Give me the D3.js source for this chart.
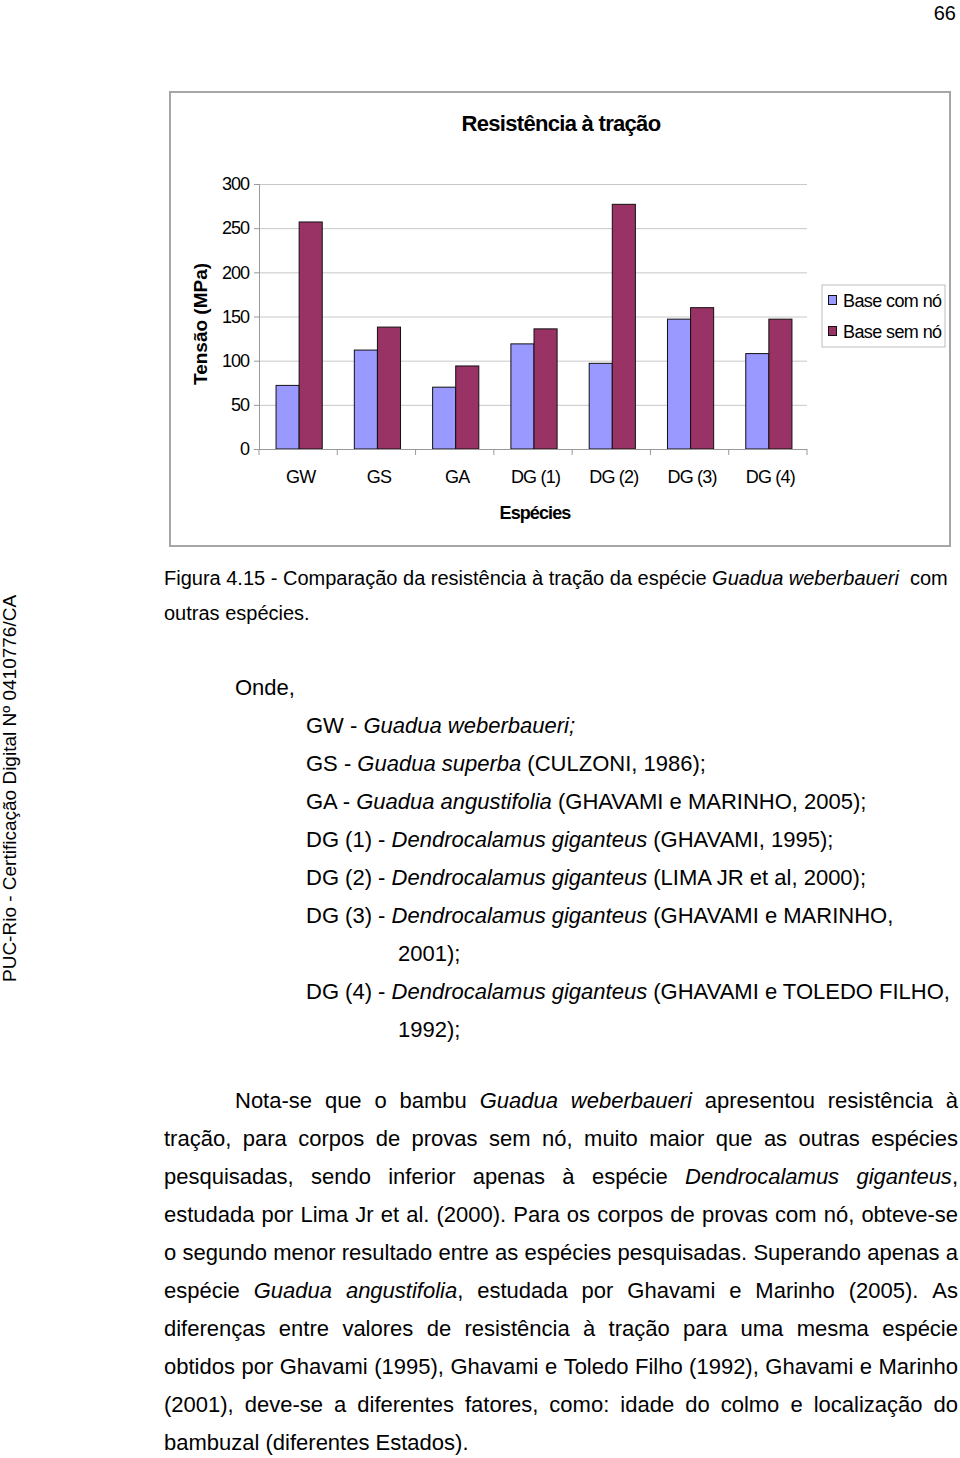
<!DOCTYPE html>
<html><head><meta charset="utf-8">
<script src="https://cdn.jsdelivr.net/npm/d3@7"></script>
<style>
html,body{margin:0;padding:0;background:#fff;}
svg{display:block;font-family:"Liberation Sans",Arial,Helvetica,sans-serif;}
</style></head><body>
<svg id="page" width="960" height="1458"></svg>
<script>
// ---------- data ----------
const categories = ["GW", "GS", "GA", "DG (1)", "DG (2)", "DG (3)", "DG (4)"];
const seriesNames = ["Base com nó", "Base sem nó"];
const comNo = [72, 112, 70, 119, 97, 147, 108];
const semNo = [257, 138, 94, 136, 277, 160, 147];
const yTicks = [0, 50, 100, 150, 200, 250, 300];
const chartTitle = "Resistência à tração";
const xTitle = "Espécies";
const yTitle = "Tensão (MPa)";
const seriesColors = ["#9999ff", "#993366"];

const pageNumber = "66";
const sideText = "PUC-Rio - Certificação Digital Nº 0410776/CA";
const captionLines = [
  [{t:"Figura 4.15 - Comparação da resistência à tração da espécie "},{t:"Guadua weberbaueri",i:1},{t:"  com"}],
  [{t:"outras espécies."}]
];
const listLines = [
  {indent:0, segs:[{t:"Onde,"}]},
  {indent:1, segs:[{t:"GW - "},{t:"Guadua weberbaueri;",i:1}]},
  {indent:1, segs:[{t:"GS - "},{t:"Guadua superba",i:1},{t:" (CULZONI, 1986);"}]},
  {indent:1, segs:[{t:"GA - "},{t:"Guadua angustifolia",i:1},{t:" (GHAVAMI e MARINHO, 2005);"}]},
  {indent:1, segs:[{t:"DG (1) - "},{t:"Dendrocalamus giganteus",i:1},{t:" (GHAVAMI, 1995);"}]},
  {indent:1, segs:[{t:"DG (2) - "},{t:"Dendrocalamus giganteus",i:1},{t:" (LIMA JR et al, 2000);"}]},
  {indent:1, segs:[{t:"DG (3) - "},{t:"Dendrocalamus giganteus",i:1},{t:" (GHAVAMI e MARINHO,"}]},
  {indent:2, segs:[{t:"2001);"}]},
  {indent:1, segs:[{t:"DG (4) - "},{t:"Dendrocalamus giganteus",i:1},{t:" (GHAVAMI e TOLEDO FILHO,"}]},
  {indent:2, segs:[{t:"1992);"}]}
];
const paragraphLines = [
  {first:1, just:1, segs:[{t:"Nota-se que o bambu "},{t:"Guadua weberbaueri",i:1},{t:" apresentou resistência à"}]},
  {just:1, segs:[{t:"tração, para corpos de provas sem nó, muito maior que as outras espécies"}]},
  {just:1, segs:[{t:"pesquisadas, sendo inferior apenas à espécie "},{t:"Dendrocalamus giganteus",i:1},{t:","}]},
  {just:1, segs:[{t:"estudada por Lima Jr et al. (2000). Para os corpos de provas com nó, obteve-se"}]},
  {just:1, segs:[{t:"o segundo menor resultado entre as espécies pesquisadas. Superando apenas a"}]},
  {just:1, segs:[{t:"espécie "},{t:"Guadua angustifolia",i:1},{t:", estudada por Ghavami e Marinho (2005). As"}]},
  {just:1, segs:[{t:"diferenças entre valores de resistência à tração para uma mesma espécie"}]},
  {just:1, segs:[{t:"obtidos por Ghavami (1995), Ghavami e Toledo Filho (1992), Ghavami e Marinho"}]},
  {just:1, segs:[{t:"(2001), deve-se a diferentes fatores, como: idade do colmo e localização do"}]},
  {just:0, segs:[{t:"bambuzal (diferentes Estados)."}]}
];

// ---------- page ----------
const svg = d3.select("#page");
const FONT = '"Liberation Sans",Arial,Helvetica,sans-serif';

svg.append("text").attr("x", 956).attr("y", 20).attr("text-anchor", "end")
  .attr("font-size", 20).text(pageNumber);

svg.append("text").attr("transform", "translate(16,982) rotate(-90)")
  .attr("font-size", 19).text(sideText);

// ---------- chart ----------
svg.append("rect").attr("x", 170).attr("y", 92).attr("width", 780).attr("height", 454)
  .attr("fill", "#fff").attr("stroke", "#a6a6a6").attr("stroke-width", 2);

svg.append("text").attr("x", 561).attr("y", 131).attr("text-anchor", "middle")
  .attr("font-size", 22).attr("font-weight", "bold").attr("letter-spacing", "-0.7px")
  .text(chartTitle);

const x0 = d3.scaleBand().domain(categories).range([259, 807]).paddingInner(0.41).paddingOuter(0.205);
const x1 = d3.scaleBand().domain(seriesNames).range([0, x0.bandwidth()]);
const y = d3.scaleLinear().domain([0, 300]).range([449, 184]);

// grid
const grid = svg.append("g").attr("transform", "translate(259,0)")
  .call(d3.axisLeft(y).tickValues(yTicks).tickSize(-548).tickFormat(""));
grid.select(".domain").remove();
grid.selectAll(".tick line").attr("stroke", "#c8c8c8").attr("stroke-width", 1);

// bars
const rows = categories.map((c, k) => ({cat: c, vals: [comNo[k], semNo[k]]}));
svg.append("g").selectAll("g").data(rows).join("g")
  .attr("transform", d => `translate(${x0(d.cat) + 1},0)`)
  .selectAll("rect").data(d => d.vals.map((v, s) => ({v, s})))
  .join("rect")
  .attr("x", d => x1(seriesNames[d.s]))
  .attr("y", d => y(d.v))
  .attr("width", x1.bandwidth())
  .attr("height", d => y(0) - y(d.v))
  .attr("fill", d => seriesColors[d.s])
  .attr("stroke", "#111").attr("stroke-width", 1);

// y axis
const ya = svg.append("g").attr("transform", "translate(259,0)")
  .call(d3.axisLeft(y).tickValues(yTicks).tickSize(5).tickPadding(5));
ya.attr("font-family", FONT).attr("font-size", 18);
ya.select(".domain").attr("stroke", "#999");
ya.selectAll(".tick line").attr("stroke", "#999");
ya.selectAll(".tick text").attr("fill", "#000").attr("letter-spacing", "-1px");

// x axis
const xa = svg.append("g").attr("transform", "translate(0,449)")
  .call(d3.axisBottom(x0).tickSize(0).tickPadding(21));
xa.attr("font-family", FONT).attr("font-size", 18);
xa.select(".domain").attr("stroke", "#999").attr("d", `M${x0.range()[0]},0.5H${x0.range()[1]}`);
xa.selectAll(".tick text").attr("fill", "#000").attr("letter-spacing", "-0.8px").attr("dx", "2.5");
const bounds = categories.map(c => x0(c) - (x0.step() - x0.bandwidth()) / 2).concat([x0.range()[1]]);
xa.selectAll("line.bound").data(bounds).join("line").attr("class", "bound")
  .attr("x1", d => d).attr("x2", d => d).attr("y1", 0).attr("y2", 6)
  .attr("stroke", "#999");

svg.append("text").attr("x", 535).attr("y", 519).attr("text-anchor", "middle")
  .attr("font-size", 18).attr("font-weight", "bold").attr("letter-spacing", "-0.9px")
  .text(xTitle);

svg.append("text").attr("transform", "translate(207,324) rotate(-90)").attr("text-anchor", "middle")
  .attr("font-size", 19).attr("font-weight", "bold")
  .text(yTitle);

// legend
const lg = svg.append("g");
lg.append("rect").attr("x", 822).attr("y", 285).attr("width", 123).attr("height", 62)
  .attr("fill", "#fff").attr("stroke", "#bdbdbd").attr("stroke-width", 1);
const lgItems = lg.selectAll("g").data(seriesNames).join("g")
  .attr("transform", (d, k) => `translate(828,${300 + k * 31})`);
lgItems.append("rect").attr("x", 0.5).attr("y", -4.5).attr("width", 8).attr("height", 9)
  .attr("fill", (d, k) => seriesColors[k]).attr("stroke", "#111").attr("stroke-width", 1);
lgItems.append("text").attr("x", 15).attr("y", 6.5).attr("font-size", 18)
  .attr("letter-spacing", "-0.6px").text(d => d);

// ---------- body text ----------
function drawLine(x, yb, segs, size, justifyTo) {
  const text = svg.append("text").attr("x", x).attr("y", yb).attr("font-size", size)
    .style("white-space", "pre");
  if (!justifyTo) {
    segs.forEach(s => text.append("tspan").attr("font-style", s.i ? "italic" : null).text(s.t));
    return;
  }
  const words = []; let cur = [];
  segs.forEach(s => {
    s.t.split(" ").forEach((p, k) => {
      if (k > 0) { if (cur.length) words.push(cur); cur = []; }
      if (p) cur.push({t: p, i: s.i});
    });
  });
  if (cur.length) words.push(cur);
  const widths = words.map(w => {
    const m = svg.append("text").attr("font-size", size).style("white-space", "pre");
    w.forEach(p => m.append("tspan").attr("font-style", p.i ? "italic" : null).text(p.t));
    const wd = m.node().getComputedTextLength();
    m.remove();
    return wd;
  });
  const gap = (justifyTo - x - d3.sum(widths)) / (words.length - 1);
  let cx = x;
  words.forEach((w, k) => {
    w.forEach((p, j) => {
      const ts = text.append("tspan").attr("font-style", p.i ? "italic" : null).text(p.t);
      if (j === 0) ts.attr("x", cx);
    });
    cx += widths[k] + gap;
  });
}

captionLines.forEach((segs, k) => drawLine(164, 585 + k * 35, segs, 20, 0));

const indents = [235, 306, 398];
listLines.forEach((ln, k) => drawLine(indents[ln.indent], 695 + k * 38, ln.segs, 22, 0));

paragraphLines.forEach((ln, k) =>
  drawLine(ln.first ? 235 : 164, 1108 + k * 38, ln.segs, 22, ln.just ? 958 : 0));
</script>
</body></html>
